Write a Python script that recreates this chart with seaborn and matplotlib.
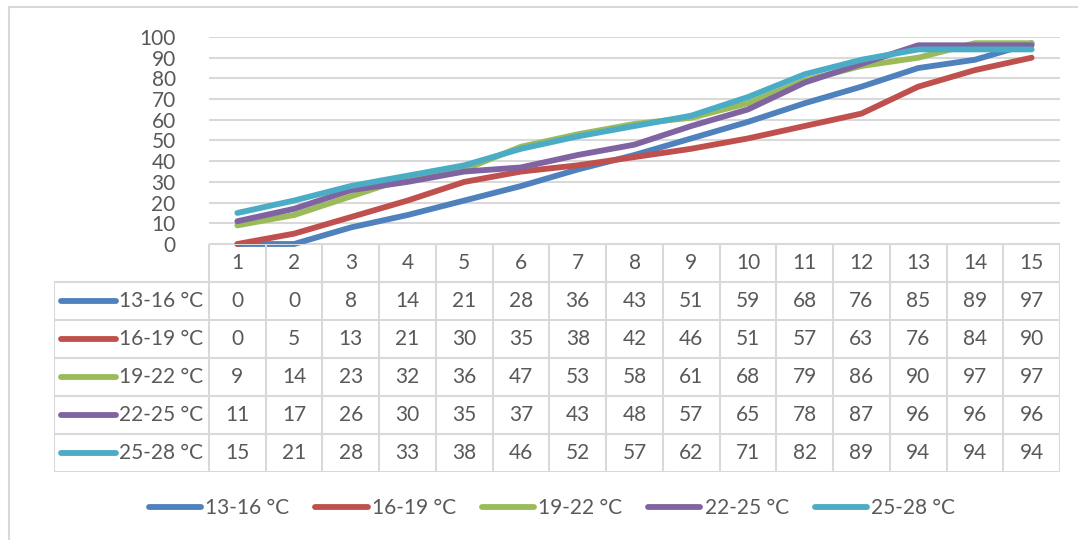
import numpy as np
import pandas as pd
import matplotlib
matplotlib.use("Agg")
import matplotlib.pyplot as plt
from matplotlib.patches import Rectangle
from matplotlib.lines import Line2D
import seaborn as sns

# Données
jours = list(range(1, 16))
series = ["13-16 °C", "16-19 °C", "19-22 °C", "22-25 °C", "25-28 °C"]
v_13_16 = [0, 0, 8, 14, 21, 28, 36, 43, 51, 59, 68, 76, 85, 89, 97]
v_16_19 = [0, 5, 13, 21, 30, 35, 38, 42, 46, 51, 57, 63, 76, 84, 90]
v_19_22 = [9, 14, 23, 32, 36, 47, 53, 58, 61, 68, 79, 86, 90, 97, 97]
v_22_25 = [11, 17, 26, 30, 35, 37, 43, 48, 57, 65, 78, 87, 96, 96, 96]
v_25_28 = [15, 21, 28, 33, 38, 46, 52, 57, 62, 71, 82, 89, 94, 94, 94]
valeurs = [v_13_16, v_16_19, v_19_22, v_22_25, v_25_28]
couleurs = ["#4F81BD", "#C0504D", "#9BBB59", "#8064A2", "#4BACC6"]

df = pd.DataFrame({
    "jour": jours * len(series),
    "serie": [s for s in series for _ in jours],
    "valeur": [v for vals in valeurs for v in vals],
})

sns.set_style("white")
plt.rcParams["font.family"] = ["Lato", "DejaVu Sans"]
gris_txt = "#595959"
gris_ligne = "#D9D9D9"

W, H = 1078, 540
fig = plt.figure(figsize=(W / 100, H / 100), dpi=100)

# cadre extérieur
fig.patches.append(Rectangle((9 / W, -0.1), 1.2, (H - 7) / H + 0.1,
                             transform=fig.transFigure, fill=False,
                             edgecolor=gris_ligne, lw=1.5))

left_px, right_px, zero_px, top_px = 209, 1060, 244, 37
ax = fig.add_axes([left_px / W, (H - zero_px) / H,
                   (right_px - left_px) / W, (zero_px - top_px) / H])
sns.lineplot(data=df, x="jour", y="valeur", hue="serie", palette=couleurs,
             lw=4.2, ax=ax, legend=False, solid_capstyle="round",
             solid_joinstyle="round", clip_on=False)
ax.set_xlim(0.5, 15.5)
ax.set_ylim(0, 100)
ax.set_yticks(range(0, 101, 10))
ax.set_xticks([])
ax.yaxis.grid(True, color=gris_ligne, lw=1.5)
ax.set_axisbelow(True)
ax.tick_params(axis="y", length=0, pad=24, labelsize=15, labelcolor=gris_txt)
for s in ax.spines.values():
    s.set_visible(False)
ax.set_xlabel("")
ax.set_ylabel("")
ax.patch.set_alpha(0)

# tableau de données
colw = (right_px - left_px) / 15
tab_left, tab_bottom = 54, 472
x0 = 0.5 - (left_px - tab_left) / colw
tax = fig.add_axes([tab_left / W, (H - tab_bottom) / H,
                    (right_px - tab_left) / W, (tab_bottom - zero_px) / H])
tax.set_xlim(x0, 15.5)
tax.set_ylim(6, 0)
tax.axis("off")

tax.plot([0.5, 15.5], [0, 0], color=gris_ligne, lw=1.5)
for r in range(1, 7):
    tax.plot([x0, 15.5], [r, r], color=gris_ligne, lw=1.5)
for c in np.arange(0.5, 16, 1):
    tax.plot([c, c], [0, 6], color=gris_ligne, lw=1.5)
tax.plot([x0, x0], [1, 6], color=gris_ligne, lw=1.5)

for j in jours:
    tax.text(j, 0.5, str(j), ha="center", va="center", fontsize=15, color=gris_txt)

def px2x(px):
    return x0 + (px - tab_left) / colw

for i, (nom, vals, col) in enumerate(zip(series, valeurs, couleurs)):
    y = i + 1.5
    tax.plot([px2x(61), px2x(116)], [y, y], color=col, lw=4.2, solid_capstyle="round")
    tax.text(px2x(119), y, nom, ha="left", va="center", fontsize=15, color=gris_txt)
    for j, v in zip(jours, vals):
        tax.text(j, y, str(v), ha="center", va="center", fontsize=15, color=gris_txt)

# légende
handles = [Line2D([0], [0], color=c, lw=4.2, solid_capstyle="round") for c in couleurs]
fig.legend(handles, series, loc="center", bbox_to_anchor=(552 / W, (H - 508) / H),
           ncol=5, frameon=False, fontsize=15, labelcolor=gris_txt,
           handlelength=2.5, handletextpad=0.2, columnspacing=1.25)

plt.savefig("out.png", dpi=100)
